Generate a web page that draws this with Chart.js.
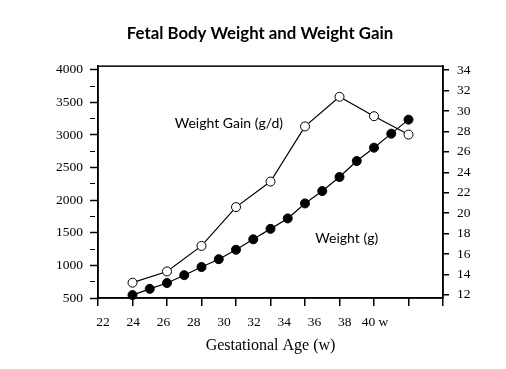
<!DOCTYPE html>
<html>
<head>
<meta charset="utf-8">
<script src="https://cdn.jsdelivr.net/npm/chart.js@4/dist/chart.umd.min.js"></script>
<style>
  html, body { margin: 0; padding: 0; background: #fff; }
  #wrap { width: 506px; height: 369px; }
</style>
</head>
<body>
<div id="wrap"><canvas id="fetal-chart" width="506" height="369"></canvas></div>
<script>
// gestational weeks and values
const weightWeeks = [24, 25, 26, 27, 28, 29, 30, 31, 32, 33, 34, 35, 36, 37, 38, 39, 40];
const weightGrams = [545, 640, 730, 850, 975, 1095, 1240, 1400, 1560, 1720, 1950, 2140, 2355, 2600, 2805, 3020, 3235];

const gainWeeks = [24, 26, 28, 30, 32, 34, 36, 38, 40];
const gainPerDay = [13.2, 14.3, 16.8, 20.6, 23.1, 28.5, 31.4, 29.5, 27.7];

// tick values
const weekTicks = [22, 24, 26, 28, 30, 32, 34, 36, 38, 40];
const gramTicks = [500, 750, 1000, 1250, 1500, 1750, 2000, 2250, 2500, 2750, 3000, 3250, 3500, 3750, 4000];
const gainTicks = [12, 14, 16, 18, 20, 22, 24, 26, 28, 30, 32, 34];

// in-plot series labels, anchored in data units
const seriesLabels = [
  { text: "Weight Gain (g/d)", x: 26.45, y: 28.8, axis: "y1" },
  { text: "Weight (g)", x: 34.6, y: 1415, axis: "y" },
];

const ink = "#000";
const serif = "'Liberation Serif', 'Times New Roman', serif";
const sans = "Lato, 'Open Sans', sans-serif";

const isMajorGram = (v) => v % 500 === 0;

const framePlugin = {
  id: "frame",
  beforeDatasetsDraw(chart) {
    const { ctx, chartArea: a } = chart;
    ctx.save();
    ctx.strokeStyle = ink;
    ctx.lineWidth = 1.5;
    ctx.strokeRect(a.left, a.top, a.right - a.left, a.bottom - a.top);
    ctx.restore();
  },
};

const seriesLabelPlugin = {
  id: "seriesLabels",
  afterDatasetsDraw(chart) {
    const { ctx, scales } = chart;
    ctx.save();
    ctx.fillStyle = ink;
    ctx.font = "14px " + sans;
    ctx.textAlign = "left";
    ctx.textBaseline = "middle";
    seriesLabels.forEach((l) => {
      ctx.fillText(l.text, scales.x.getPixelForValue(l.x), scales[l.axis].getPixelForValue(l.y));
    });
    ctx.restore();
  },
};

new Chart(document.getElementById("fetal-chart"), {
  type: "line",
  data: {
    datasets: [
      {
        label: "Weight Gain (g/d)",
        data: gainWeeks.map((w, i) => ({ x: w, y: gainPerDay[i] })),
        yAxisID: "y1",
        borderColor: ink,
        borderWidth: 1.2,
        pointRadius: 4.5,
        pointBorderWidth: 1,
        pointBackgroundColor: "#fff",
        pointBorderColor: ink,
        tension: 0,
        clip: false,
      },
      {
        label: "Weight (g)",
        data: weightWeeks.map((w, i) => ({ x: w, y: weightGrams[i] })),
        yAxisID: "y",
        borderColor: ink,
        borderWidth: 1.2,
        pointRadius: 4.5,
        pointBorderWidth: 1,
        pointBackgroundColor: ink,
        pointBorderColor: ink,
        tension: 0,
        clip: false,
      },
    ],
  },
  options: {
    responsive: false,
    animation: false,
    devicePixelRatio: 1,
    layout: { padding: { left: 14, right: 0, top: 0, bottom: 0 } },
    plugins: {
      legend: { display: false },
      tooltip: { enabled: false },
      title: {
        display: true,
        text: "Fetal Body Weight and Weight Gain",
        color: ink,
        font: { family: sans, size: 16.8, weight: "bold" },
        padding: { top: 24, bottom: 22 },
      },
    },
    scales: {
      x: {
        type: "linear",
        position: "bottom",
        min: 22,
        max: 42,
        weight: 0,
        ticks: { stepSize: 2, callback: () => "" },
        grid: { drawOnChartArea: false, color: ink, lineWidth: 1.5, tickLength: 8 },
        border: { display: true, color: ink, width: 1.5 },
        afterFit: (s) => { s.height = 9; },
      },
      // label row: the printed week numbers sit on a slightly tighter spacing than the tick marks
      xLabels: {
        type: "linear",
        position: "bottom",
        min: 21.67,
        max: 44.5,
        weight: 1,
        afterBuildTicks: (s) => { s.ticks = weekTicks.map((v) => ({ value: v })); },
        ticks: {
          padding: 7,
          color: ink,
          font: { family: serif, size: 13.5 },
          maxRotation: 0,
          autoSkip: false,
          callback: (v, i, t) => (t[i].value === 40 ? "40 w" : String(t[i].value)),
        },
        grid: { display: false, drawTicks: false },
        border: { display: false },
        title: {
          display: true,
          text: "Gestational Age (w)",
          color: ink,
          font: { family: serif, size: 16 },
          padding: { top: 0, bottom: 14 },
        },
        afterFit: (s) => { s.height = 62; },
      },
      y: {
        type: "linear",
        position: "left",
        min: 500,
        max: 4055,
        afterBuildTicks: (s) => { s.ticks = gramTicks.map((v) => ({ value: v })); },
        ticks: {
          autoSkip: false,
          padding: 7,
          color: ink,
          font: { family: serif, size: 13.5 },
          callback: (v, i, t) => (isMajorGram(t[i].value) ? String(t[i].value) : ""),
        },
        grid: {
          drawOnChartArea: false,
          color: ink,
          tickLength: 8,
          tickWidth: (c) => (c.tick && isMajorGram(c.tick.value) ? 1.5 : 1),
          tickBorderDash: (c) => (c.tick && isMajorGram(c.tick.value) ? [] : [5, 20]),
        },
        border: { display: true, color: ink, width: 1.5 },
        afterFit: (s) => { s.width = 84; },
      },
      y1: {
        type: "linear",
        position: "right",
        min: 11.7,
        max: 34.4,
        afterBuildTicks: (s) => { s.ticks = gainTicks.map((v) => ({ value: v })); },
        ticks: {
          autoSkip: false,
          padding: 8,
          color: ink,
          font: { family: serif, size: 13.5 },
          callback: (v, i, t) => String(t[i].value),
        },
        grid: { drawOnChartArea: false, color: ink, lineWidth: 1.5, tickLength: 6 },
        border: { display: true, color: ink, width: 1.5 },
        afterFit: (s) => { s.width = 63; },
      },
    },
  },
  plugins: [framePlugin, seriesLabelPlugin],
});
</script>
</body>
</html>
